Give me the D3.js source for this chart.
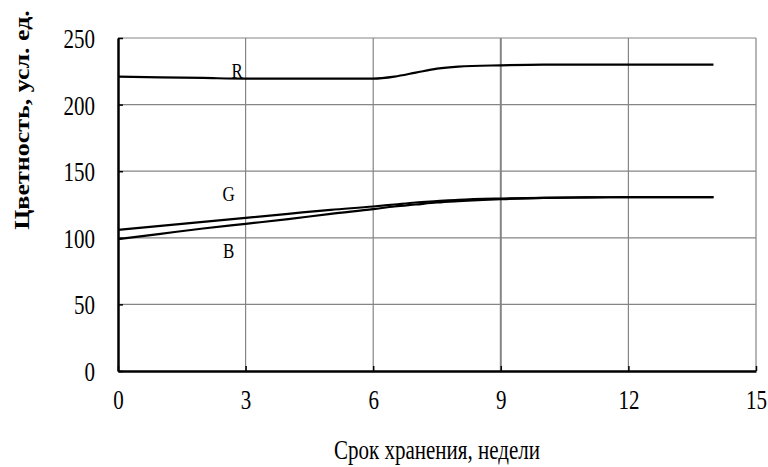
<!DOCTYPE html>
<html>
<head>
<meta charset="utf-8">
<script src="https://cdn.jsdelivr.net/npm/d3@7"></script>
<style>
  body { margin: 0; background: #fff; }
  svg text { font-family: "Liberation Serif", "Times New Roman", "DejaVu Serif", serif; }
</style>
</head>
<body>
<div id="chart"></div>
<script>
// weeks of storage
const weeks = [0, 1, 2, 3, 4, 5, 6, 6.5, 7, 7.5, 8, 9, 10, 11, 12, 13, 14];
const seriesR = [221, 220.5, 220, 219.5, 219.5, 219.5, 219.5, 221, 224, 227, 228.5, 229.5, 230, 230, 230, 230, 230];
const seriesG = [106, 109, 112, 115, 118, 121, 123.5, 125, 126.5, 127.5, 128.5, 129.5, 130, 130.3, 130.5, 130.5, 130.5];
const seriesB = [99, 103, 107, 110.5, 114, 118, 121.5, 123.5, 125, 126.5, 127.5, 129, 130, 130.3, 130.5, 130.5, 130.5];
const series = [
  { name: "R", values: seriesR, labelAt: [2.8, 225] },
  { name: "G", values: seriesG, labelAt: [2.6, 133] },
  { name: "B", values: seriesB, labelAt: [2.6, 90] }
];
const xTicks = [0, 3, 6, 9, 12, 15];
const yTicks = [0, 50, 100, 150, 200, 250];

const W = 768, H = 467;
const margin = { top: 38, right: 12, bottom: 96, left: 118 };
const width = W - margin.left - margin.right;
const height = H - margin.top - margin.bottom;
const SERIF = "'Liberation Serif', 'Times New Roman', 'DejaVu Serif', serif";
const STRETCH = 1.3; // text in the picture is drawn taller than wide

const svg = d3.select("#chart").append("svg")
  .attr("width", W).attr("height", H);
const g = svg.append("g").attr("transform", `translate(${margin.left},${margin.top})`);

const x = d3.scaleLinear().domain([0, 15]).range([0, width]);
const y = d3.scaleLinear().domain([0, 250]).range([height, 0]);

// grid
g.append("g").selectAll("line").data(yTicks.filter(d => d > 0)).join("line")
  .attr("x1", 0).attr("x2", width)
  .attr("y1", d => y(d)).attr("y2", d => y(d))
  .attr("stroke", "#858585").attr("stroke-width", 1.2);
g.append("g").selectAll("line").data(xTicks.filter(d => d > 0)).join("line")
  .attr("x1", d => x(d)).attr("x2", d => x(d))
  .attr("y1", 0).attr("y2", height)
  .attr("stroke", "#858585").attr("stroke-width", d => d === 9 ? 2 : 1.2);

// axes
const xAxis = g.append("g").attr("transform", `translate(0,${height})`)
  .call(d3.axisBottom(x).tickValues(xTicks).tickSize(-5).tickPadding(14).tickSizeOuter(0));
const yAxis = g.append("g")
  .call(d3.axisLeft(y).tickValues(yTicks).tickSize(-5).tickPadding(24).tickSizeOuter(0));
[xAxis, yAxis].forEach(a => {
  a.attr("font-family", SERIF).attr("font-size", 21);
  a.select(".domain").attr("stroke", "#000").attr("stroke-width", 2.5);
  a.selectAll(".tick line").attr("stroke", "#000").attr("stroke-width", 1.5);
  a.selectAll("text").attr("fill", "#000").attr("transform", `scale(1,${STRETCH})`);
});
yAxis.selectAll("text").attr("dy", "0.35em").attr("x", -23);
xAxis.selectAll("text").attr("dy", "0.71em");

// lines
const line = d3.line()
  .x((d, i) => x(weeks[i]))
  .y(d => y(d))
  .curve(d3.curveMonotoneX);

series.forEach(s => {
  g.append("path").datum(s.values)
    .attr("fill", "none").attr("stroke", "#000").attr("stroke-width", 2.2)
    .attr("d", line);
  g.append("text")
    .attr("transform", `translate(${x(s.labelAt[0])},${y(s.labelAt[1])}) scale(1,1.2)`)
    .attr("text-anchor", "middle").attr("dy", "0.35em")
    .attr("font-family", SERIF).attr("font-size", 17)
    .text(s.name);
});

// axis titles
svg.append("text")
  .attr("transform", `translate(29,120) rotate(-90) scale(${STRETCH},1)`)
  .attr("text-anchor", "middle")
  .attr("font-family", SERIF).attr("font-size", 20).attr("font-weight", "bold")
  .text("Цветность, усл. ед.");

svg.append("text")
  .attr("transform", `translate(437,459) scale(1,${STRETCH})`)
  .attr("text-anchor", "middle")
  .attr("font-family", SERIF).attr("font-size", 21)
  .text("Срок хранения, недели");
</script>
</body>
</html>
